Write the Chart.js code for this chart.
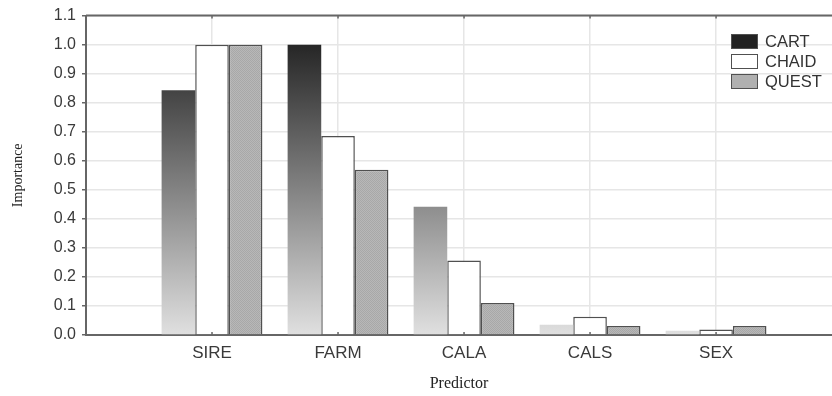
<!DOCTYPE html>
<html>
<head>
<meta charset="utf-8">
<script src="https://cdn.jsdelivr.net/npm/chart.js@4/dist/chart.umd.min.js"></script>
<style>
  html, body { margin: 0; padding: 0; background: #fff; overflow: hidden; }
  #wrap { position: relative; width: 832px; height: 396px; }
  #legend { position: absolute; left: 731px; top: 31px; font-family: "Liberation Sans", Arial, sans-serif; font-size: 16.5px; color: #333; }
  .item { display: flex; align-items: center; height: 20px; }
  .box { width: 25px; height: 13px; border: 1.5px solid #505050; margin-right: 7px; }
</style>
</head>
<body>
<div id="wrap">
  <canvas id="c" width="832" height="396"></canvas>
  <div id="legend"></div>
</div>
<script>
const categories = ["SIRE", "FARM", "CALA", "CALS", "SEX"];
const seriesNames = ["CART", "CHAID", "QUEST"];
const cart  = [0.843, 1.000, 0.442, 0.035, 0.015];
const chaid = [1.000, 0.685, 0.257, 0.063, 0.019];
const quest = [1.000, 0.569, 0.110, 0.031, 0.031];
const yTicks = [0.0, 0.1, 0.2, 0.3, 0.4, 0.5, 0.6, 0.7, 0.8, 0.9, 1.0, 1.1];

function toPoints(vals) { return vals.map((v, i) => ({ x: i + 1, y: v })); }

// texture for QUEST bars
const pc = document.createElement('canvas');
pc.width = 2; pc.height = 2;
const pctx = pc.getContext('2d');
pctx.fillStyle = '#b8b8b8'; pctx.fillRect(0, 0, 2, 2);
pctx.fillStyle = '#a8a8a8'; pctx.fillRect(0, 0, 1, 1); pctx.fillRect(1, 1, 1, 1);
const questPattern = pctx.createPattern(pc, 'repeat');

function cartGradient(ctx) {
  const chart = ctx.chart;
  if (!chart.chartArea) return '#444';
  const y = chart.scales.y;
  const g = chart.ctx.createLinearGradient(0, y.getPixelForValue(0), 0, y.getPixelForValue(1.0));
  g.addColorStop(0, '#e0e0e0');
  g.addColorStop(1, '#262626');
  return g;
}

const frame = {
  id: 'frame',
  afterDraw(chart) {
    const { ctx, chartArea } = chart;
    const x = chart.scales.x;
    ctx.save();
    ctx.strokeStyle = '#666';
    ctx.lineWidth = 2;
    ctx.beginPath();
    ctx.moveTo(chartArea.left, chartArea.top);
    ctx.lineTo(chartArea.right, chartArea.top);
    ctx.stroke();
    ctx.lineWidth = 1.5;
    for (let i = 1; i <= categories.length; i++) {
      const px = x.getPixelForValue(i);
      ctx.beginPath();
      ctx.moveTo(px, chartArea.top); ctx.lineTo(px, chartArea.top + 3);
      ctx.moveTo(px, chartArea.bottom); ctx.lineTo(px, chartArea.bottom - 3);
      ctx.stroke();
    }
    ctx.restore();
  }
};

const chart = new Chart(document.getElementById('c'), {
  type: 'bar',
  data: {
    datasets: [
      { label: seriesNames[0], data: toPoints(cart), backgroundColor: cartGradient, borderWidth: 0 },
      { label: seriesNames[1], data: toPoints(chaid), backgroundColor: '#ffffff', borderColor: '#505050', borderWidth: 1.5 },
      { label: seriesNames[2], data: toPoints(quest), backgroundColor: questPattern, borderColor: '#505050', borderWidth: 1.5 }
    ]
  },
  options: {
    responsive: false,
    devicePixelRatio: 1,
    animation: false,
    layout: { padding: { top: 14, right: 0, left: 0, bottom: 0 } },
    plugins: { legend: { display: false }, tooltip: { enabled: false } },
    datasets: { bar: { categoryPercentage: 0.8, barPercentage: 1.0 } },
    scales: {
      x: {
        type: 'linear',
        offset: false,
        min: 0,
        max: 5.92,
        afterFit(s) { s.height = 61; },
        afterBuildTicks(s) { s.ticks = [0, 1, 2, 3, 4, 5].map(v => ({ value: v })); },
        ticks: {
          stepSize: 1,
          includeBounds: false,
          padding: 8,
          color: '#3a3a3a',
          font: { family: '"Liberation Sans", Arial, sans-serif', size: 17 },
          callback: (v) => (v >= 1 && v <= categories.length) ? categories[v - 1] : ''
        },
        grid: { color: '#e6e6e6', lineWidth: 1.5, drawTicks: false, offset: false },
        border: { color: '#666', width: 2 },
        title: {
          display: true, text: 'Predictor', color: '#222',
          font: { family: '"Liberation Serif", "Times New Roman", serif', size: 16 },
          padding: { top: 0, bottom: 3 }
        }
      },
      y: {
        min: 0,
        max: 1.1,
        afterFit(s) { s.width = 86; },
        afterBuildTicks(s) { s.ticks = yTicks.map(v => ({ value: v })); },
        ticks: {
          stepSize: 0.1,
          padding: 6,
          color: '#3a3a3a',
          font: { family: '"Liberation Sans", Arial, sans-serif', size: 16 },
          callback: (v) => Number(v).toFixed(1)
        },
        grid: { color: '#e6e6e6', lineWidth: 1.5, tickLength: 4, tickColor: '#666' },
        border: { color: '#666', width: 2 },
        title: {
          display: true, text: 'Importance', color: '#222',
          font: { family: '"Liberation Serif", "Times New Roman", serif', size: 14 },
          padding: { top: 10, bottom: 0 }
        }
      }
    }
  },
  plugins: [frame]
});

// legend built from the datasets
const legendEl = document.getElementById('legend');
const legendFills = ['#222222', '#ffffff', '#b0b0b0'];
chart.data.datasets.forEach((ds, i) => {
  const item = document.createElement('div');
  item.className = 'item';
  const box = document.createElement('div');
  box.className = 'box';
  box.style.background = legendFills[i];
  const t = document.createElement('span');
  t.textContent = ds.label;
  item.appendChild(box); item.appendChild(t);
  legendEl.appendChild(item);
});
</script>
</body>
</html>
